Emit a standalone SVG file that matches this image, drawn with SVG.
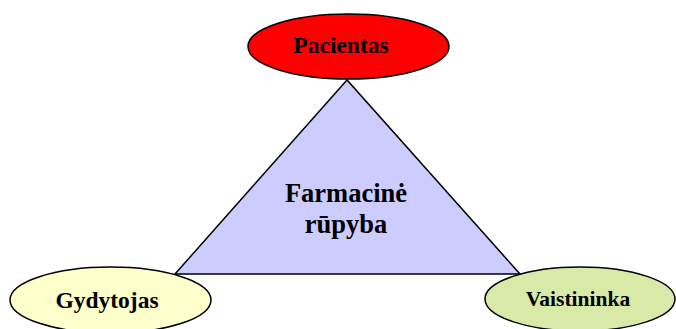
<svg xmlns="http://www.w3.org/2000/svg" width="676" height="329" viewBox="0 0 676 329">
<style>
.n{stroke:#000;stroke-width:1.5}
.t{font-family:"Liberation Serif",serif;font-weight:bold;text-anchor:middle;fill:#000}
</style>
<rect width="676" height="329" fill="#fff"/>
<g id="connectors">
<polygon id="triangle" points="347,80 175,274 520,274" fill="#ccccff" stroke="#000" stroke-width="1.5"/>
</g>
<g id="center">
<text class="t" x="346" y="202" font-size="26.5">Farmacinė</text>
<text class="t" x="346" y="233" font-size="26.5">rūpyba</text>
</g>
<g id="pacientas">
<ellipse class="n" cx="348.5" cy="46.5" rx="100.5" ry="32.5" fill="#ff0000"/>
<text class="t" x="341" y="53" font-size="23.5">Pacientas</text>
</g>
<g id="gydytojas">
<ellipse class="n" cx="110.5" cy="300" rx="100.5" ry="33" fill="#ffffcc"/>
<text class="t" x="107" y="308" font-size="23.5">Gydytojas</text>
</g>
<g id="vaistininka">
<ellipse class="n" cx="580" cy="299" rx="95" ry="32" fill="#d9eaa8"/>
<text class="t" x="578" y="306" font-size="21.5">Vaistininka</text>
</g>
</svg>
